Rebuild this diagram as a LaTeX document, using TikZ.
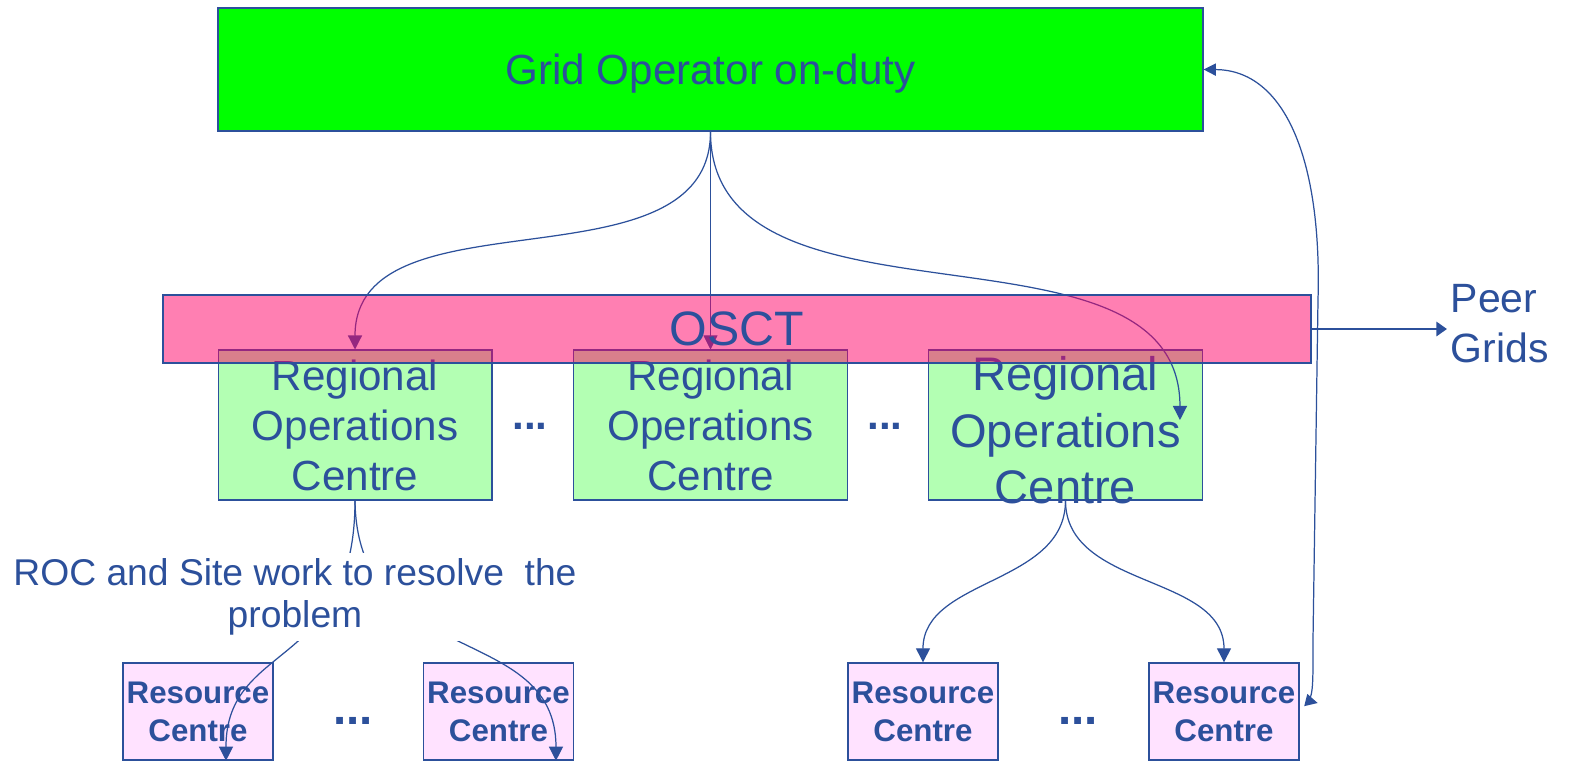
\documentclass[tikz,border=0pt]{standalone}
\usepackage{fontspec}
\setmainfont{Liberation Sans}
\usetikzlibrary{arrows.meta}
\definecolor{lineblue}{RGB}{44,80,155}
\definecolor{gogreen}{RGB}{0,255,0}
\definecolor{osctpink}{RGB}{255,0,102}
\definecolor{rocgreen}{RGB}{179,255,179}
\definecolor{rcpink}{RGB}{255,226,255}
\begin{document}
\begin{tikzpicture}
[
 x=0.02cm, y=-0.02cm,
 GOBOX/.style={rectangle, draw=lineblue, fill=gogreen, line width=0.8pt, minimum width=19.7cm, minimum height=2.46cm, text depth=-2pt, text=lineblue, font=\fontsize{24}{28}\selectfont},
 OSCTBAR/.style={rectangle, draw=lineblue, fill=osctpink, fill opacity=0.5, text opacity=1, line width=0.8pt, minimum width=22.96cm, minimum height=1.36cm, text depth=-6pt, text=lineblue, font=\fontsize{27.5}{30}\selectfont},
 ROCBOX/.style={rectangle, draw=lineblue, fill=rocgreen, line width=0.6pt, minimum width=5.48cm, minimum height=3cm, inner sep=0pt, text depth=-3pt, align=center, text=lineblue, font=\fontsize{24}{28.4}\selectfont},
 RCBOX/.style={rectangle, draw=lineblue, fill=rcpink, line width=0.8pt, minimum width=3cm, minimum height=1.94cm, inner sep=0pt, text depth=-4.5pt, align=center, text=lineblue, font=\bfseries\fontsize{17.8}{21.5}\selectfont},
 DOTS/.style={text=lineblue, inner sep=0pt, font=\bfseries\fontsize{24}{24}\selectfont},
 NOTE/.style={fill=white, text=lineblue, align=center, inner sep=3pt, font=\fontsize{21.2}{23.8}\selectfont},
 LINK/.style={draw=lineblue, line width=0.7pt, -{Triangle[length=8pt,width=8pt]}},
]
%
\fill[white] (0,0) rectangle (1573,765);
\useasboundingbox (0,0) rectangle (1573,765);
%
\node [GOBOX]   (GO)    at (710.5, 69.5)  {Grid Operator on-duty};
%
\node [ROCBOX]  (ROC1)  at (355, 425)   {Regional\\Operations\\Centre};
\node [ROCBOX]  (ROC2)  at (710.5, 425) {Regional\\Operations\\Centre};
\node [ROCBOX]  (ROC3)  at (1065.5, 425) {};
\node [ROCBOX, fill=none, draw=none, font=\fontsize{26.8}{32.3}\selectfont]  (ROC3T) at (1065.5, 430) {Regional\\Operations\\Centre};
\node [DOTS]    (D1)    at (530, 426)  {...};
\node [DOTS]    (D2)    at (885, 426)  {...};
%
\node [RCBOX]   (RC1)   at (198, 711.5)   {Resource\\Centre};
\node [RCBOX]   (RC2)   at (498.5, 711.5) {Resource\\Centre};
\node [RCBOX]   (RC3)   at (923, 711.5)   {Resource\\Centre};
\node [RCBOX]   (RC4)   at (1224, 711.5)  {Resource\\Centre};
\node [DOTS, font=\bfseries\fontsize{27}{27}\selectfont]  (D3)  at (353, 721)  {...};
\node [DOTS, font=\bfseries\fontsize{27}{27}\selectfont]  (D4)  at (1078, 721) {...};
%
\draw [LINK]  (GO.south)  to[out=-90, in=90]  (ROC1.north) ;
\draw [LINK, line width=0.5pt]  (GO.south)  --  (ROC2.north) ;
\draw [LINK]  (GO.south)  to[out=-90, in=90]  ([shift={(2.29cm,0.1cm)}]ROC3.center) ;
%
\draw [LINK]  (ROC3.south)  to[out=-90, in=90]  (RC3.north) ;
\draw [LINK]  (ROC3.south)  to[out=-90, in=90]  (RC4.north) ;
%
\draw [LINK]  (ROC1.south)  .. controls +(0,170) and +(0,-120) ..  ([xshift=0.56cm]RC1.south) ;
\draw [LINK]  (ROC1.south)  .. controls +(2,170) and +(0,-140) ..  ([xshift=1.15cm]RC2.south) ;
\node [NOTE]    (NOTE)  at (295, 597)  {ROC and Site work to resolve \ the\\problem};
%
\draw [LINK, {Triangle[length=7pt,width=7pt]}-{Triangle[length=7pt,width=7pt]}]
      ([shift={(0.36cm,0.17cm)}]RC4.east)  .. controls +(-4,-1) and +(0,40) ..  (1313,640)
      -- (1318,300)  .. controls (1322,160) and (1285,70) ..  (GO.east) ;
%
\node [OSCTBAR] (OSCT)  at (737, 329)  {OSCT};
%
\node [anchor=west, align=left, text=lineblue, inner sep=2pt, font=\fontsize{23.3}{28.4}\selectfont]  (PEER)  at (1447, 324)  {Peer\\Grids};
\draw [draw=lineblue, line width=1.6pt, -{Triangle[length=6pt,width=8pt]}]  (OSCT.east)  --  (OSCT.east -| PEER.west) ;
\end{tikzpicture}
\end{document}
